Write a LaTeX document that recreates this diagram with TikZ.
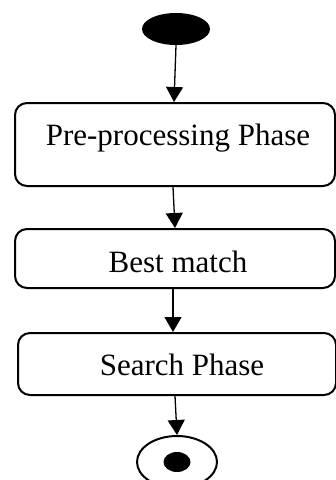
\documentclass[tikz,border=0pt]{standalone}
\usepackage{fontspec}
\setmainfont{Liberation Serif}
\usetikzlibrary{shapes.geometric, arrows.meta}
\tikzset{
    phase/.style={
        draw, line width=2pt, rounded corners=12pt, inner sep=0pt
    },
    phasetext/.style={
        font=\fontsize{31pt}{37pt}\selectfont, inner sep=0pt
    },
    flow/.style={
        line width=1.3pt, -{Triangle[length=15pt, width=17pt]}
    }
}

\begin{document}
\begin{tikzpicture}[x=1pt, y=-1pt]

\useasboundingbox (0,0) rectangle (336,480);

\node[ellipse, fill=black, minimum width=68pt, minimum height=32pt, inner sep=0pt] (start) at (176, 29) {};

\node[phase, minimum width=320pt, minimum height=83pt] (prep) at (175, 144.5) {};
\node[phasetext] (preptext) at (178, 138) {Pre-processing Phase};

\node[phase, minimum width=320pt, minimum height=59pt] (best) at (175, 258.5) {};
\node[phasetext] (besttext) at (178, 262) {Best match};

\node[phase, minimum width=318pt, minimum height=62pt] (search) at (177, 364) {};
\node[phasetext] (searchtext) at (182, 365) {Search Phase};

% final node: ring with a dot inside
\node[ellipse, draw, line width=2pt, minimum width=80pt, minimum height=52pt, inner sep=0pt] (stop) at (177, 462) {};
\node[ellipse, fill=black, minimum width=27pt, minimum height=20pt, inner sep=0pt] (stopdot) at (stop.center) {};

\draw[flow] (start.south) -- ([xshift=-1pt]prep.north);
\draw[flow] ([xshift=-2pt]prep.south) -- (best.north);
\draw[flow] ([xshift=-2pt]best.south) -- ([xshift=-4pt]search.north);
\draw[flow] ([xshift=-2pt]search.south) -- (stop.north);

\end{tikzpicture}
\end{document}
